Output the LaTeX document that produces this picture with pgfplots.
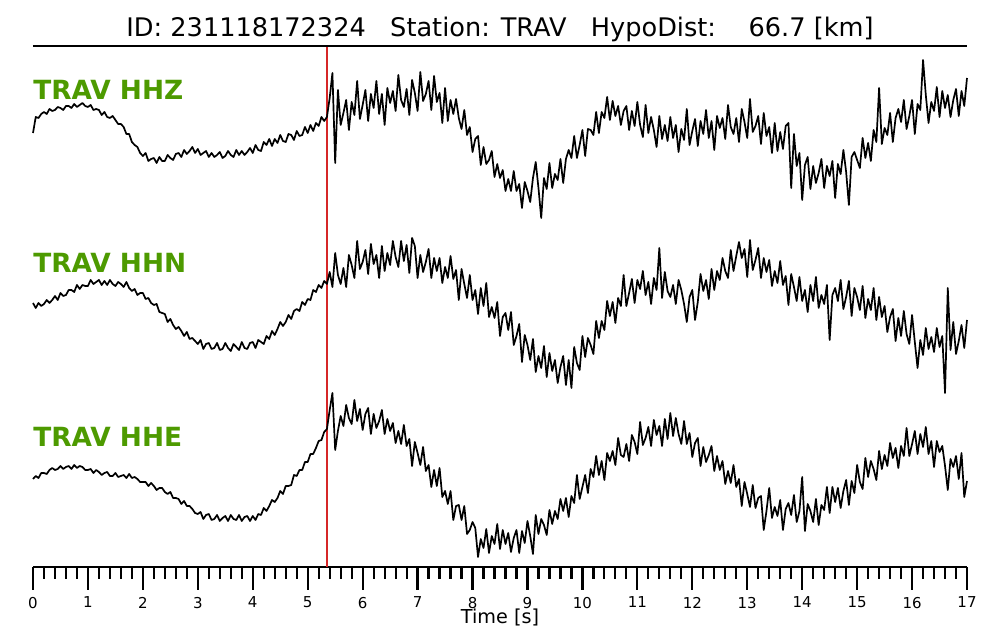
\documentclass[border=0pt]{standalone}
\usepackage{fontspec}
\setmainfont{DejaVu Sans}
\usepackage{pgfplots}
\usepackage{pgfplotstable}
\pgfplotsset{compat=1.18}
\definecolor{lblgreen}{RGB}{77,154,0}
\definecolor{pred}{RGB}{214,39,40}
% pixel rows of the three traces, one sample every 0.05 s
\pgfplotstableread{
z n e
133 303 479
117 308 476
118 303 478
114 306 473
112 304 473
114 300 474
109 303 470
111 300 468
110 296 470
107 300 469
108 293 466
110 296 469
106 295 467
106 290 466
108 290 469
104 292 465
107 285 468
105 289 466
103 285 467
106 286 470
107 286 470
105 280 469
110 284 473
109 282 470
110 280 472
115 285 475
112 281 473
117 285 472
118 280 476
116 284 476
120 286 473
124 282 477
124 284 476
127 287 475
134 282 478
134 288 474
142 291 478
145 289 477
147 295 479
153 293 482
156 293 482
153 299 482
161 298 486
159 303 483
158 305 486
163 304 490
157 312 488
161 313 488
161 314 492
155 322 494
158 319 492
160 325 498
154 329 498
153 327 499
157 331 504
150 336 501
154 332 506
151 339 506
147 338 509
153 341 513
149 344 514
155 340 512
153 349 519
151 344 515
157 343 514
153 349 520
157 348 519
155 343 515
152 350 521
158 349 518
156 343 516
151 348 521
155 351 515
157 344 519
150 347 520
155 350 515
151 342 521
155 348 517
152 349 516
148 343 521
153 342 516
145 348 520
150 340 514
151 342 515
142 344 508
145 336 511
139 339 506
146 331 500
139 335 502
143 329 498
135 322 491
141 326 494
142 322 486
134 315 486
135 319 485
140 311 475
131 309 476
136 311 470
135 302 470
127 305 462
133 299 462
125 300 454
131 290 454
123 292 448
126 285 441
117 288 440
121 281 432
117 284 429
98 272 410
73 287 393
163 253 450
90 275 431
125 284 416
113 268 426
100 287 405
130 255 418
102 265 424
115 278 400
81 241 421
119 269 409
105 262 430
90 250 414
121 274 408
94 244 434
108 264 414
81 255 428
114 278 421
94 246 410
125 271 434
88 253 419
103 265 431
91 241 423
111 257 443
75 267 431
100 241 444
107 261 425
89 245 446
115 273 439
80 238 466
93 246 442
111 278 453
72 255 465
101 272 447
94 262 471
81 249 465
110 278 487
76 258 470
102 271 486
93 258 468
123 283 497
88 267 491
121 278 504
100 256 491
114 279 520
99 270 506
118 300 505
129 269 520
110 284 506
135 298 534
127 275 530
152 300 522
139 290 528
136 314 557
165 288 539
147 306 548
164 283 529
160 317 553
151 307 536
177 318 544
164 302 524
178 336 549
170 317 530
191 313 544
179 330 533
191 312 552
171 345 538
191 336 530
184 324 553
208 362 531
182 335 543
191 345 521
202 360 536
178 339 554
162 372 515
188 356 534
218 368 519
178 346 525
189 377 535
163 353 510
188 371 524
174 360 511
180 383 519
159 367 499
183 356 511
159 385 498
150 360 517
158 388 496
136 347 503
158 363 475
145 370 499
130 336 487
156 357 475
129 338 493
130 345 469
135 354 477
112 321 456
133 338 475
112 321 461
118 330 480
97 301 453
120 316 461
101 302 451
116 323 465
106 298 438
125 306 455
111 275 457
106 306 444
130 293 461
111 279 435
126 303 442
102 280 454
125 289 422
137 271 445
105 295 438
133 282 427
117 304 446
130 278 420
147 290 435
116 248 426
139 298 446
125 272 419
141 291 439
117 297 413
138 285 436
125 304 418
152 280 434
129 290 444
140 304 421
109 322 444
145 297 433
131 290 457
119 320 443
146 302 438
121 274 466
134 291 447
110 280 462
138 299 455
121 269 446
150 290 471
116 271 456
128 280 470
118 258 461
139 271 484
105 278 471
127 250 483
134 271 465
118 256 487
142 242 479
109 258 506
122 249 482
138 277 494
99 240 507
132 270 485
126 260 508
116 248 498
144 278 496
113 258 530
136 272 511
127 260 488
153 286 518
123 271 507
151 283 516
132 261 500
149 285 530
126 276 509
123 305 503
188 274 515
134 287 495
166 301 522
153 277 511
200 301 477
165 290 531
157 312 504
189 285 511
166 301 522
183 277 499
173 308 525
159 295 505
188 304 510
166 285 487
176 340 513
161 295 487
198 288 502
164 301 488
174 280 508
150 309 491
172 297 480
205 281 505
157 316 481
152 288 493
160 297 465
168 310 482
138 286 489
158 318 458
143 299 477
161 310 461
130 288 469
142 320 480
88 297 451
144 317 469
128 306 455
135 332 466
113 317 443
142 309 458
118 341 448
109 318 468
122 336 446
100 311 456
129 334 428
116 344 456
100 315 444
134 342 431
104 368 454
110 340 434
60 355 447
95 328 427
123 349 454
102 337 441
111 352 467
87 328 441
117 347 452
91 336 446
108 393 466
95 288 490
117 350 459
100 322 467
89 354 456
116 341 479
91 325 453
106 348 497
78 320 481
}\traces
\begin{document}
\begin{tikzpicture}
\path[use as bounding box] (0,0) rectangle (500pt,320pt);
\begin{axis}[
  at={(16.5pt,36.5pt)}, anchor=south west,
  width=467pt, height=260.5pt, scale only axis,
  xmin=0, xmax=17, ymin=-567, ymax=-46,
  axis x line*=bottom, axis y line=none,
  x axis line style={-, line width=1pt},
  xtick={0,1,...,17}, minor x tick num=4,
  tick align=outside,
  major tick length=11.5pt, minor tick length=6pt,
  tick style={black, line width=1.1pt},
  xticklabel style={font=\fontsize{7.5}{9}\selectfont},
  /pgf/number format/assume math mode=true,
  clip=false,
]
\addplot[pred, line width=0.7pt] coordinates {(5.35,-46) (5.35,-567)};
\addplot[black, line width=0.85pt, line join=round] table[x expr=\coordindex*0.05, y expr=-\thisrow{z}] {\traces};
\addplot[black, line width=0.85pt, line join=round] table[x expr=\coordindex*0.05, y expr=-\thisrow{n}] {\traces};
\addplot[black, line width=0.85pt, line join=round] table[x expr=\coordindex*0.05, y expr=-\thisrow{e}] {\traces};
\draw[black, line width=0.7pt] (axis cs:0,-46) -- (axis cs:17,-46);
\node[anchor=base west, inner sep=0pt, text=lblgreen, font=\bfseries\fontsize{13.2}{16}\selectfont] at (axis cs:0,-100) {TRAV HHZ};
\node[anchor=base west, inner sep=0pt, text=lblgreen, font=\bfseries\fontsize{13.2}{16}\selectfont] at (axis cs:0,-273) {TRAV HHN};
\node[anchor=base west, inner sep=0pt, text=lblgreen, font=\bfseries\fontsize{13.2}{16}\selectfont] at (axis cs:0,-447) {TRAV HHE};
\end{axis}
\node[anchor=base, inner sep=0pt, font=\fontsize{12.8}{15}\selectfont] at (250pt,301.5pt) {ID: 231118172324\ \ \ Station: TRAV\ \ \ HypoDist:\ \ \ \ 66.7 [km]};
\node[anchor=base, inner sep=0pt, font=\fontsize{9.6}{11}\selectfont] at (250pt,8pt) {Time [s]};
\end{tikzpicture}
\end{document}
